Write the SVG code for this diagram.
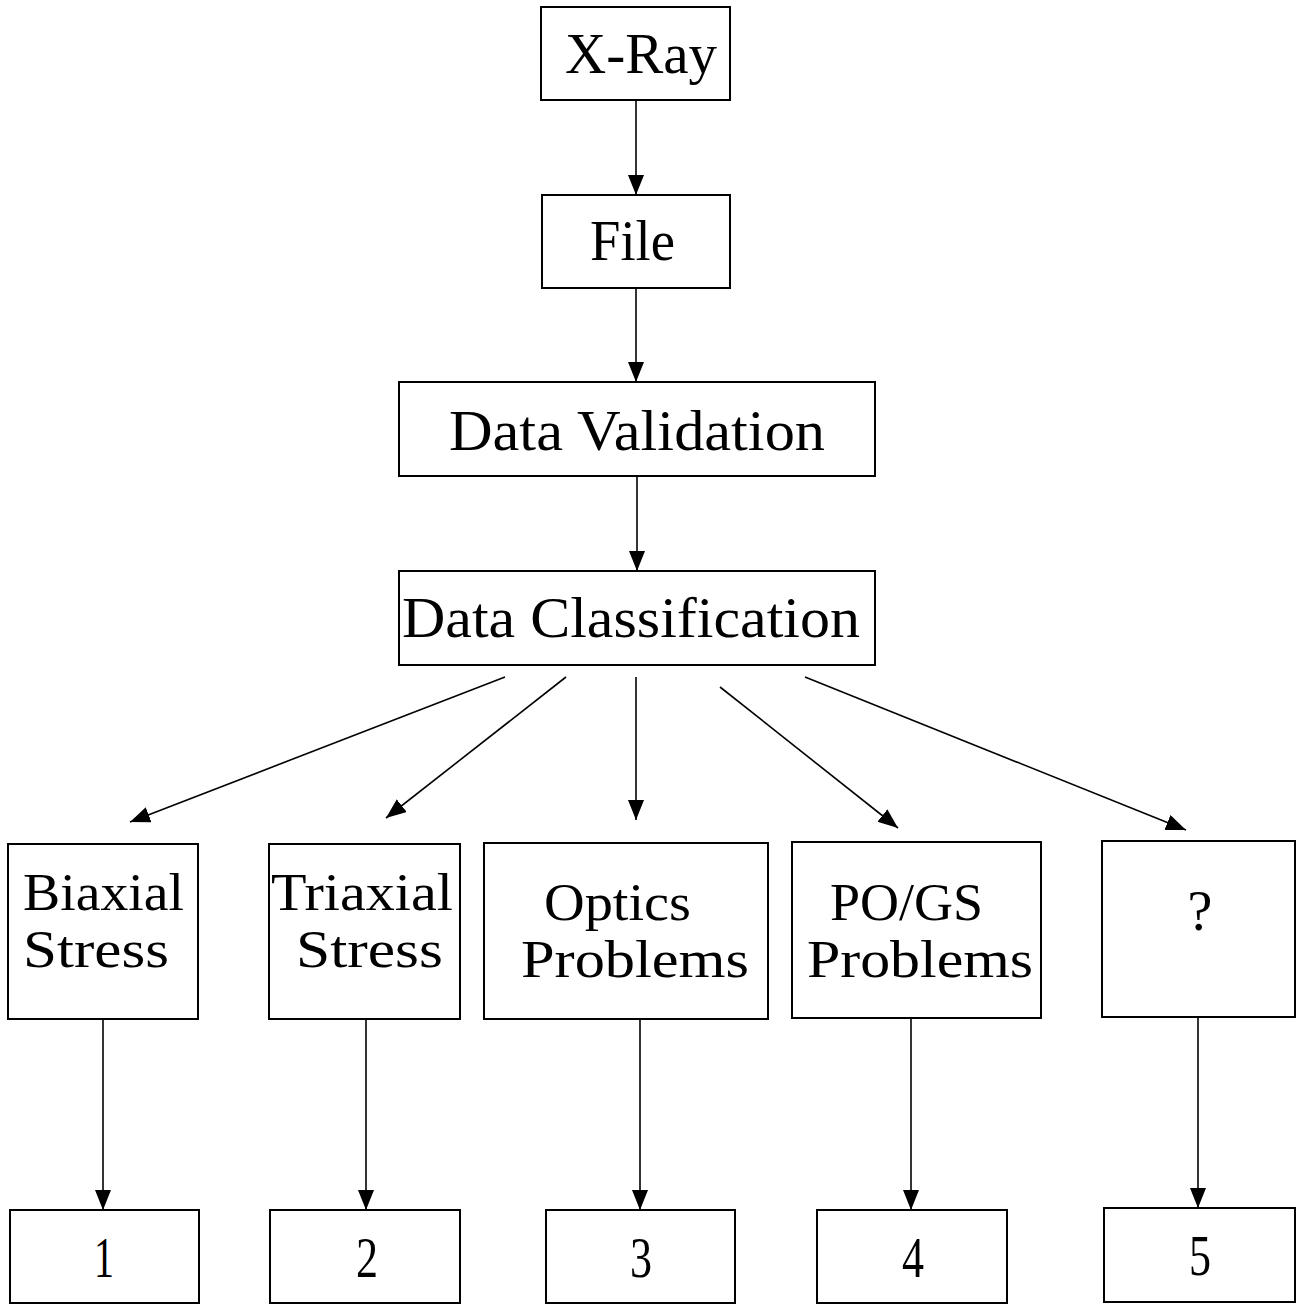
<svg xmlns="http://www.w3.org/2000/svg" width="1300" height="1306" viewBox="0 0 1300 1306">
<style>
  .box { fill: #fff; stroke: #000; stroke-width: 2; }
  .lbl { font-family: "Liberation Serif", "DejaVu Serif", serif; font-size: 56px; fill: #000; }
  .two { font-size: 53px; }
  .edge { stroke: #000; stroke-width: 1.6; fill: none; marker-end: url(#arr); }
</style>
<defs>
  <marker id="arr" markerUnits="userSpaceOnUse" markerWidth="22" markerHeight="18" refX="20" refY="8" orient="auto">
    <path d="M0,0 L20,8 L0,16 z" fill="#000"/>
  </marker>
</defs>
<rect width="1300" height="1306" fill="#fff"/>
<g id="connectors">
  <line class="edge" x1="636" y1="100" x2="636" y2="195"/>
  <line class="edge" x1="636" y1="288" x2="636" y2="382"/>
  <line class="edge" x1="637" y1="476" x2="637" y2="571"/>
  <line class="edge" x1="505" y1="677" x2="130" y2="822"/>
  <line class="edge" x1="566" y1="677" x2="386" y2="818"/>
  <line class="edge" x1="636" y1="677" x2="636" y2="820"/>
  <line class="edge" x1="720" y1="687" x2="898" y2="828"/>
  <line class="edge" x1="805" y1="677" x2="1186" y2="830"/>
  <line class="edge" x1="103" y1="1019" x2="103" y2="1210"/>
  <line class="edge" x1="366" y1="1019" x2="366" y2="1210"/>
  <line class="edge" x1="640" y1="1019" x2="640" y2="1210"/>
  <line class="edge" x1="911" y1="1018" x2="911" y2="1210"/>
  <line class="edge" x1="1198" y1="1017" x2="1198" y2="1208"/>
</g>
<g id="xray"><rect class="box" x="541" y="7" width="189" height="93"/><text class="lbl" x="565" y="73" textLength="152" lengthAdjust="spacingAndGlyphs">X-Ray</text></g>
<g id="file"><rect class="box" x="542" y="195" width="188" height="93"/><text class="lbl" x="590" y="260" textLength="85" lengthAdjust="spacingAndGlyphs">File</text></g>
<g id="validation"><rect class="box" x="399" y="382" width="476" height="94"/><text class="lbl" x="449" y="450" textLength="376" lengthAdjust="spacingAndGlyphs">Data Validation</text></g>
<g id="classification"><rect class="box" x="399" y="571" width="476" height="94"/><text class="lbl" x="402" y="637" textLength="458" lengthAdjust="spacingAndGlyphs">Data Classification</text></g>
<g id="biaxial"><rect class="box" x="8" y="844" width="190" height="175"/>
  <text class="lbl two" x="23" y="910" textLength="161" lengthAdjust="spacingAndGlyphs">Biaxial</text>
  <text class="lbl two" x="23" y="967" textLength="146" lengthAdjust="spacingAndGlyphs">Stress</text></g>
<g id="triaxial"><rect class="box" x="269" y="844" width="191" height="175"/>
  <text class="lbl two" x="271" y="910" textLength="182" lengthAdjust="spacingAndGlyphs">Triaxial</text>
  <text class="lbl two" x="296" y="967" textLength="147" lengthAdjust="spacingAndGlyphs">Stress</text></g>
<g id="optics"><rect class="box" x="484" y="843" width="284" height="176"/>
  <text class="lbl two" x="544" y="920" textLength="147" lengthAdjust="spacingAndGlyphs">Optics</text>
  <text class="lbl two" x="521" y="977" textLength="228" lengthAdjust="spacingAndGlyphs">Problems</text></g>
<g id="pogs"><rect class="box" x="792" y="842" width="249" height="176"/>
  <text class="lbl two" x="830" y="920" textLength="153" lengthAdjust="spacingAndGlyphs">PO/GS</text>
  <text class="lbl two" x="807" y="977" textLength="226" lengthAdjust="spacingAndGlyphs">Problems</text></g>
<g id="unknown"><rect class="box" x="1102" y="841" width="193" height="176"/>
  <text class="lbl" x="1200" y="930" text-anchor="middle">?</text></g>
<g id="n1"><rect class="box" x="10" y="1210" width="189" height="93"/><text class="lbl" x="104" y="1277" text-anchor="middle" textLength="20" lengthAdjust="spacingAndGlyphs">1</text></g>
<g id="n2"><rect class="box" x="270" y="1210" width="190" height="93"/><text class="lbl" x="367" y="1277" text-anchor="middle" textLength="22" lengthAdjust="spacingAndGlyphs">2</text></g>
<g id="n3"><rect class="box" x="546" y="1210" width="189" height="93"/><text class="lbl" x="641" y="1277" text-anchor="middle" textLength="22" lengthAdjust="spacingAndGlyphs">3</text></g>
<g id="n4"><rect class="box" x="817" y="1210" width="190" height="93"/><text class="lbl" x="913" y="1277" text-anchor="middle" textLength="22" lengthAdjust="spacingAndGlyphs">4</text></g>
<g id="n5"><rect class="box" x="1104" y="1208" width="191" height="94"/><text class="lbl" x="1200" y="1275" text-anchor="middle" textLength="22" lengthAdjust="spacingAndGlyphs">5</text></g>
</svg>
